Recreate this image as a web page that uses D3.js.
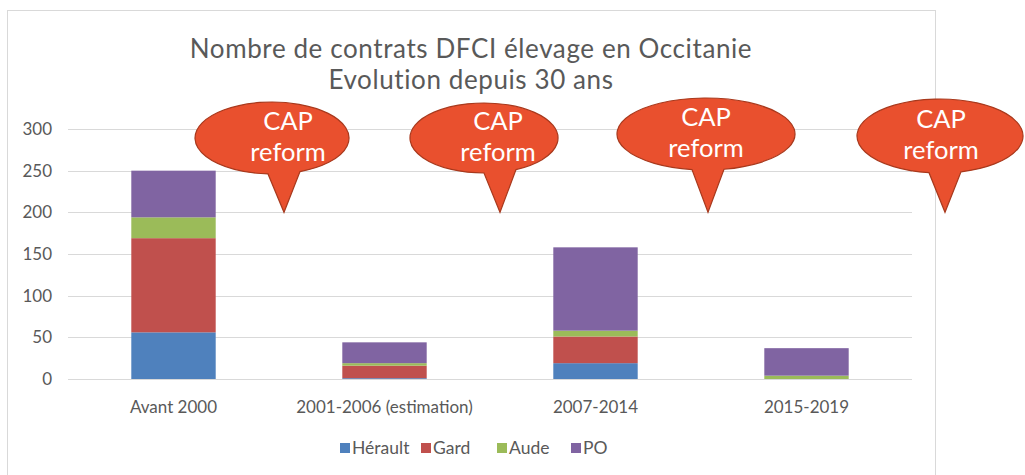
<!DOCTYPE html>
<html>
<head>
<meta charset="utf-8">
<script src="https://cdn.jsdelivr.net/npm/d3@7"></script>
<style>
  body { margin: 0; background: #fff; }
  text { font-family: Lato, "Open Sans", sans-serif; }
</style>
</head>
<body>
<svg width="1025" height="475"></svg>
<script>
var categories = ['Avant 2000', '2001-2006 (estimation)', '2007-2014', '2015-2019'];
var series = ['Hérault', 'Gard', 'Aude', 'PO'];
var herault = [56, 1, 19, 0];
var gard = [113, 15, 32, 0];
var aude = [25, 3, 7, 4];
var po = [56, 25, 100, 33];
var yTicks = [0, 50, 100, 150, 200, 250, 300];
var titleLines = ['Nombre de contrats DFCI élevage en Occitanie', 'Evolution depuis 30 ans'];
var calloutText = ['CAP', 'reform'];

var colors = ['#4f81bd', '#c0504d', '#9bbb59', '#8064a2'];

var svg = d3.select('svg');

// frame
svg.append('rect')
    .attr('x', 7.5).attr('y', 10.5)
    .attr('width', 928).attr('height', 480)
    .attr('fill', '#fff')
    .attr('stroke', '#d9d9d9');

var x = d3.scaleBand()
    .domain(categories)
    .range([68, 912])
    .paddingInner(0.6)
    .paddingOuter(0.3);

var y = d3.scaleLinear()
    .domain([0, 300])
    .range([379, 129]);

// gridlines
svg.selectAll('.grid')
    .data(yTicks)
    .enter()
    .append('line')
    .attr('x1', 68).attr('x2', 912)
    .attr('y1', function(d){ return Math.round(y(d)) + 0.5; })
    .attr('y2', function(d){ return Math.round(y(d)) + 0.5; })
    .attr('stroke', '#d9d9d9')
    .attr('stroke-width', 1);

// y labels
svg.selectAll('.ylab')
    .data(yTicks)
    .enter()
    .append('text')
    .attr('x', 52)
    .attr('y', function(d){ return y(d); })
    .attr('dy', '0.35em')
    .attr('text-anchor', 'end')
    .attr('font-size', 17)
    .attr('fill', '#595959')
    .text(function(d){ return d; });

// stacked bars
var rows = categories.map(function(c, i){
    return {cat: c, 'Hérault': herault[i], 'Gard': gard[i], 'Aude': aude[i], 'PO': po[i]};
});
var stacked = d3.stack().keys(series)(rows);

svg.selectAll('.layer')
    .data(stacked)
    .enter()
    .append('g')
    .attr('fill', function(d, i){ return colors[i]; })
    .selectAll('rect')
    .data(function(d){ return d; })
    .enter()
    .append('rect')
    .attr('x', function(d){ return x(d.data.cat); })
    .attr('width', x.bandwidth())
    .attr('y', function(d){ return y(d[1]); })
    .attr('height', function(d){ return y(d[0]) - y(d[1]); });

// x labels
svg.selectAll('.xlab')
    .data(categories)
    .enter()
    .append('text')
    .attr('x', function(d){ return x(d) + x.bandwidth() / 2; })
    .attr('y', 413)
    .attr('text-anchor', 'middle')
    .attr('font-size', 17)
    .attr('fill', '#595959')
    .text(function(d){ return d; });

// title
svg.selectAll('.title')
    .data(titleLines)
    .enter()
    .append('text')
    .attr('x', 471)
    .attr('y', function(d, i){ return 58 + i * 31; })
    .attr('text-anchor', 'middle')
    .attr('font-size', 26)
    .attr('letter-spacing', 0.6)
    .attr('fill', '#595959')
    .text(function(d){ return d; });

// legend
var legendX = [340, 421, 497, 571];
var lg = svg.selectAll('.leg')
    .data(series)
    .enter()
    .append('g')
    .attr('transform', function(d, i){ return 'translate(' + legendX[i] + ',448)'; });
lg.append('rect')
    .attr('x', 0).attr('y', -5)
    .attr('width', 10).attr('height', 10)
    .attr('fill', function(d, i){ return colors[i]; });
lg.append('text')
    .attr('x', 12)
    .attr('dy', '0.35em')
    .attr('font-size', 17.5)
    .attr('fill', '#595959')
    .text(function(d){ return d; });

// CAP reform callouts, tip anchored near the boundary after each category
var callouts = [
    {cx: 272, cy: 138, rx: 77, ry: 36, tx: 288, dx: 5},
    {cx: 484, cy: 138, rx: 74, ry: 35, tx: 498, dx: 10},
    {cx: 706, cy: 134, rx: 89, ry: 36, tx: 706, dx: 7},
    {cx: 940, cy: 136, rx: 83, ry: 37, tx: 941, dx: 33}
];
callouts.forEach(function(c, i){
    var tipX = x(categories[i]) + x.bandwidth() + x.step() * x.paddingInner() / 2 + c.dx;
    var tipY = y(200);
    var g = svg.append('g');
    var halfW = 16;
    var dxTip = tipX - c.cx;
    // ellipse + tail as single path
    var a1 = Math.acos(Math.max(-1, Math.min(1, (dxTip - halfW) / c.rx)));
    var a2 = Math.acos(Math.max(-1, Math.min(1, (dxTip + halfW) / c.rx)));
    var p1 = [c.cx + c.rx * Math.cos(a1), c.cy + c.ry * Math.sin(a1)];
    var p2 = [c.cx + c.rx * Math.cos(a2), c.cy + c.ry * Math.sin(a2)];
    var path = 'M' + p2[0] + ',' + p2[1] +
        ' A' + c.rx + ',' + c.ry + ' 0 1 0 ' + p1[0] + ',' + p1[1] +
        ' L' + tipX + ',' + tipY + ' Z';
    g.append('path')
        .attr('d', path)
        .attr('fill', '#e9502e')
        .attr('stroke', '#a8391d')
        .attr('stroke-width', 1.2);
    g.selectAll('text')
        .data(calloutText)
        .enter()
        .append('text')
        .attr('x', c.tx)
        .attr('y', function(d, j){ return c.cy - 8 + j * 31; })
        .attr('text-anchor', 'middle')
        .attr('font-size', 25.5)
        .attr('fill', '#fff')
        .text(function(d){ return d; });
});
</script>
</body>
</html>
